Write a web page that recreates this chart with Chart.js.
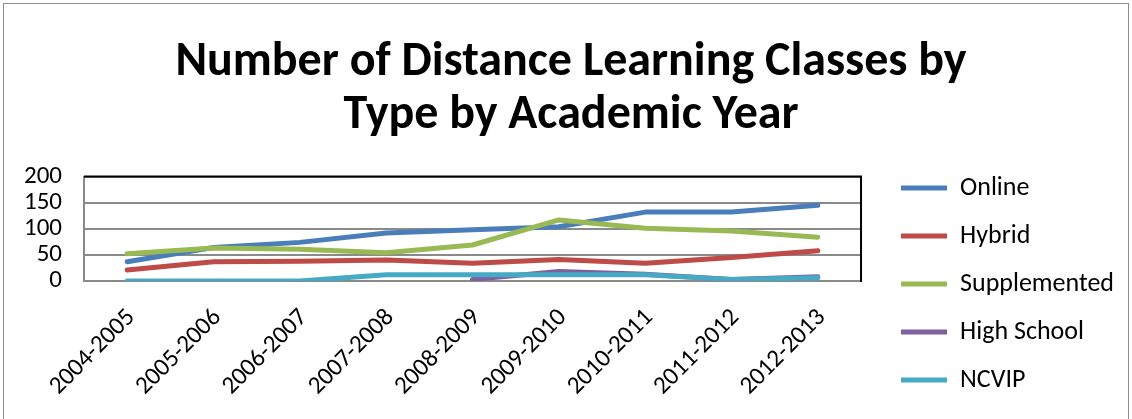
<!DOCTYPE html>
<html><head><meta charset="utf-8">
<script src="https://cdn.jsdelivr.net/npm/chart.js@4"></script>
<style>
html,body{margin:0;padding:0;background:#fff;}
#wrap{position:relative;width:1132px;height:419px;overflow:hidden;}
#frame{position:absolute;left:3px;top:3px;width:1126px;height:430px;border:1px solid #8c8c8c;box-sizing:border-box;pointer-events:none}
canvas{position:absolute;left:0;top:0}
</style></head><body>
<div id="wrap"><canvas id="c" width="1132" height="419"></canvas><div id="frame"></div></div>
<script>
const categories = ["2004-2005","2005-2006","2006-2007","2007-2008","2008-2009","2009-2010","2010-2011","2011-2012","2012-2013"];
const online       = [37, 64, 74, 92, 98, 104, 132, 132, 145];
const hybrid       = [21, 37, 38, 40, 34, 41, 34, 45, 58];
const supplemented = [52, 63, 61, 54, 69, 117, 101, 96, 84];
const highSchool   = [null, null, null, null, 3, 18, 13, 3, 8];
const ncvip        = [0, 0, 0, 12, 12, 12, 12, 3, 6];
const yTicks = [0, 50, 100, 150, 200];
const titleLines = ["Number of Distance Learning Classes by", "Type by Academic Year"];

const FONT = "Carlito, Calibri, Lato, sans-serif";

function ds(label, data, color, order) {
  return {label, data, borderColor: color, backgroundColor: color, borderWidth: 5,
    borderCapStyle: 'round', borderJoinStyle: 'round', pointRadius: 0, pointHoverRadius: 0,
    tension: 0, fill: false, order, spanGaps: false};
}

const framePlugin = {
  id: 'frameLines',
  afterDraw(chart) {
    const a = chart.chartArea, ctx = chart.ctx;
    ctx.save();
    ctx.strokeStyle = '#000';
    ctx.lineWidth = 2;
    ctx.beginPath();
    ctx.moveTo(a.left, a.top);
    ctx.lineTo(a.right, a.top);
    ctx.lineTo(a.right, a.bottom + 1);
    ctx.stroke();
    ctx.restore();
  }
};

new Chart(document.getElementById('c'), {
  type: 'line',
  data: {
    labels: categories,
    datasets: [
      ds('Online', online, '#4A7EBB', 5),
      ds('Hybrid', hybrid, '#BE4B48', 4),
      ds('Supplemented', supplemented, '#98B954', 3),
      ds('High School', highSchool, '#7D60A0', 2),
      ds('NCVIP', ncvip, '#46AAC5', 1)
    ]
  },
  options: {
    responsive: false,
    devicePixelRatio: 1,
    animation: false,
    layout: {padding: {left: 18, right: 8, top: 0, bottom: 4}},
    plugins: {
      tooltip: {enabled: false},
      title: {
        display: true, text: titleLines, color: '#000',
        font: {family: FONT, size: 48, weight: 'bold', lineHeight: 1.1},
        padding: {top: 37, bottom: 34}
      },
      legend: {
        position: 'right', align: 'end', fullSize: true, maxWidth: 400,
        labels: {
          usePointStyle: true, pointStyle: 'line', pointStyleWidth: 46,
          color: '#000', padding: 22,
          font: {family: FONT, size: 26},
          sort: (a, b) => a.datasetIndex - b.datasetIndex
        }
      }
    },
    scales: {
      x: {
        offset: true,
        grid: {display: false, drawTicks: false},
        border: {display: true, color: '#8a8a8a', width: 2},
        ticks: {color: '#000', font: {family: FONT, size: 25}, maxRotation: 45, minRotation: 45, padding: 22, labelOffset: 4, autoSkip: false},
        afterFit: s => { s.height = 134; }
      },
      y: {
        min: 0, max: 200,
        grid: {color: '#8a8a8a', lineWidth: 2, drawTicks: false},
        border: {display: true, color: '#8a8a8a', width: 2},
        ticks: {color: '#000', font: {family: FONT, size: 25}, padding: 22, autoSkip: false},
        afterBuildTicks: s => { s.ticks = yTicks.map(v => ({value: v})); },
        afterFit: s => { s.width = 66; }
      },
      gap: {
        position: 'right', display: true,
        grid: {display: false, drawTicks: false},
        border: {display: false},
        ticks: {display: false},
        afterFit: s => { s.width = 18; }
      }
    }
  },
  plugins: [framePlugin]
});
</script>
</body></html>
